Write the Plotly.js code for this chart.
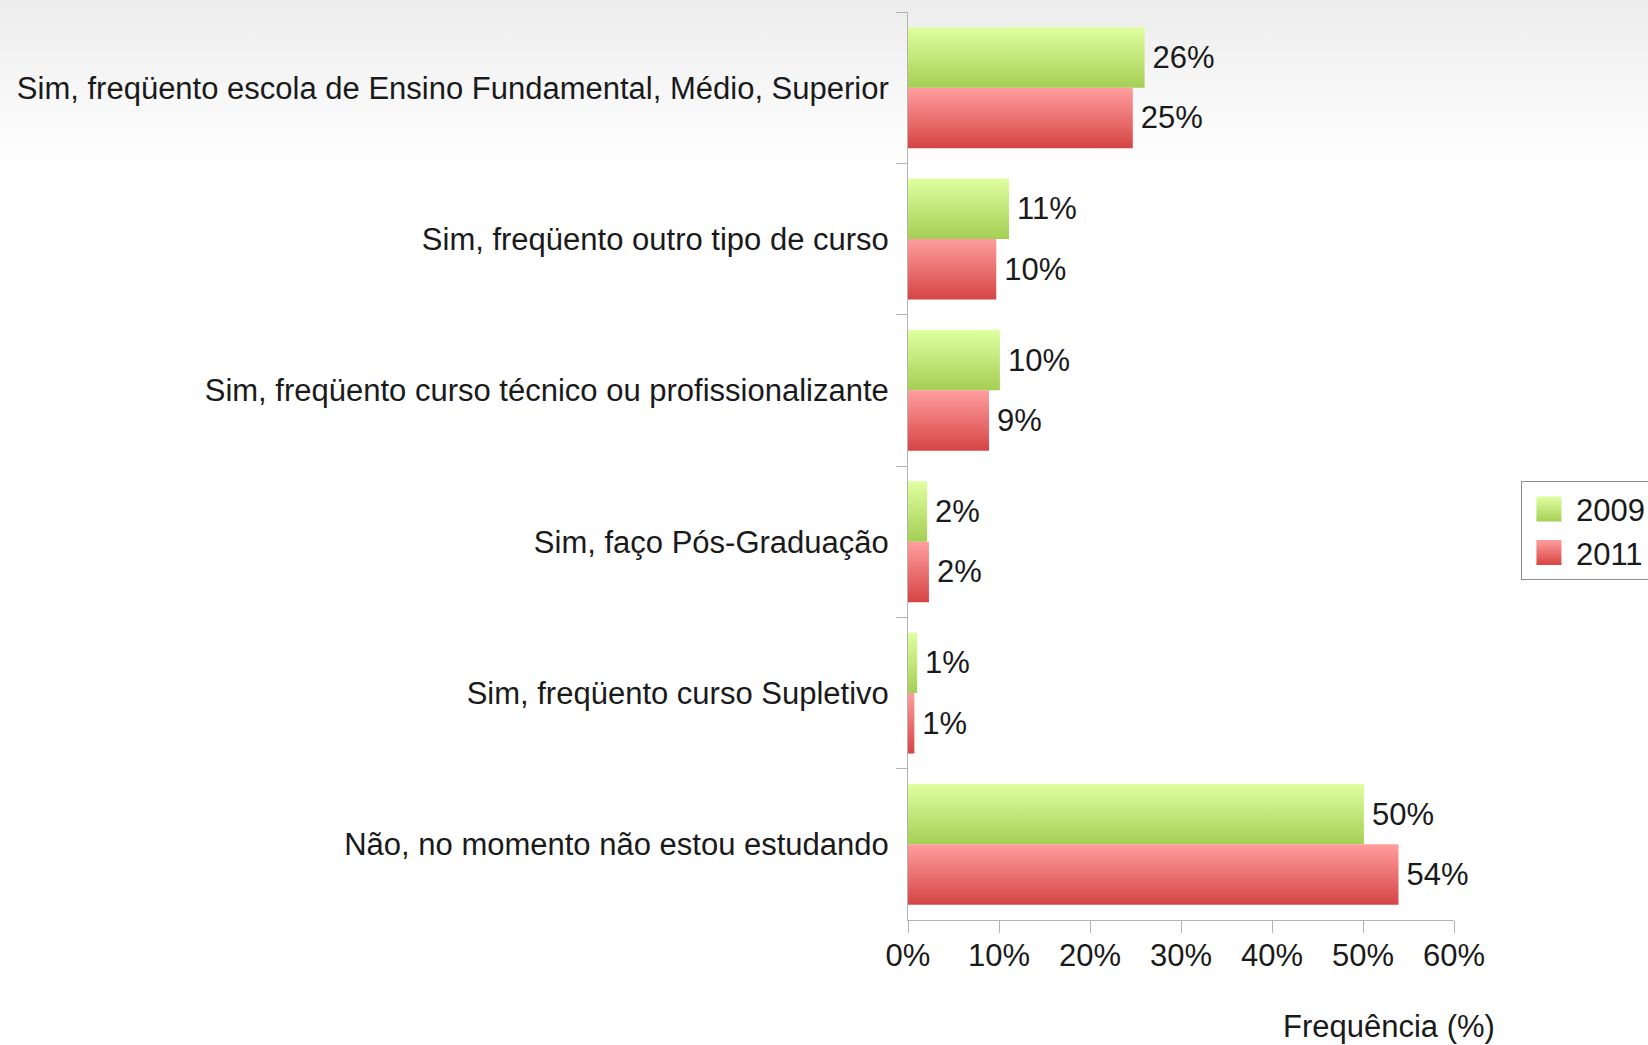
<!DOCTYPE html>
<html>
<head>
<meta charset="utf-8">
<script src="https://cdn.plot.ly/plotly-3.0.1.min.js"></script>
<style>
html, body { margin: 0; padding: 0; }
body { width: 1648px; height: 1045px; background: linear-gradient(to bottom, #ececec 0px, #f7f7f7 90px, #ffffff 175px, #ffffff 100%); overflow: hidden; }
#chart { width: 1648px; height: 1045px; }
</style>
</head>
<body>
<div id="chart"></div>
<script>
const categories = [
  "Sim, freqüento escola de Ensino Fundamental, Médio, Superior",
  "Sim, freqüento outro tipo de curso",
  "Sim, freqüento curso técnico ou profissionalizante",
  "Sim, faço Pós-Graduação",
  "Sim, freqüento curso Supletivo",
  "Não, no momento não estou estudando"
];
const values2009 = [26.0, 11.1, 10.1, 2.1, 1.0, 50.1];
const values2011 = [24.7, 9.7, 8.9, 2.3, 0.7, 53.9];
const seriesNames = ["2009", "2011"];
const xTickVals = [0, 10, 20, 30, 40, 50, 60];
const xTickText = ["0%", "10%", "20%", "30%", "40%", "50%", "60%"];
const xAxisTitle = "Frequência (%)";

const FONT = "Liberation Sans, Arial, sans-serif";
const TXT = "#1a1a1a";
const FS = 31;

const traces = [
  {
    type: "bar", orientation: "h", name: seriesNames[0],
    y: categories, x: values2009,
    marker: { color: "#bfe57a", line: { width: 0 } },
    texttemplate: "%{x:.0f}%", textposition: "outside",
    textfont: { family: FONT, size: FS, color: TXT },
    cliponaxis: false, hoverinfo: "none"
  },
  {
    type: "bar", orientation: "h", name: seriesNames[1],
    y: categories, x: values2011,
    marker: { color: "#ec6f6f", line: { width: 0 } },
    texttemplate: "%{x:.0f}%", textposition: "outside",
    textfont: { family: FONT, size: FS, color: TXT },
    cliponaxis: false, hoverinfo: "none"
  }
];

const layout = {
  width: 1648, height: 1045,
  margin: { l: 908, r: 194, t: 12, b: 125, pad: 0, autoexpand: false },
  paper_bgcolor: "rgba(0,0,0,0)",
  plot_bgcolor: "rgba(0,0,0,0)",
  font: { family: FONT, size: FS, color: TXT },
  barmode: "group",
  bargap: 0.2,
  bargroupgap: 0,
  showlegend: true,
  legend: {
    xref: "container", yref: "container",
    x: 0.9229, xanchor: "left", y: 0.4919, yanchor: "middle",
    bgcolor: "#ffffff", bordercolor: "#8c8c8c", borderwidth: 1,
    font: { family: FONT, size: FS, color: TXT },
    itemwidth: 44,
    traceorder: "normal", itemclick: false, itemdoubleclick: false
  },
  xaxis: {
    range: [0, 60], tickvals: xTickVals, ticktext: xTickText,
    showgrid: false, zeroline: false,
    showline: true, linecolor: "#b3b3b3", linewidth: 1,
    ticks: "outside", ticklen: 12, tickcolor: "#b3b3b3", tickwidth: 1,
    ticklabelstandoff: -4,
    tickfont: { family: FONT, size: FS, color: TXT },
    fixedrange: true
  },
  yaxis: {
    type: "category", autorange: "reversed",
    showgrid: false, zeroline: false,
    showline: true, linecolor: "#b3b3b3", linewidth: 1,
    ticks: "outside", tickson: "boundaries", ticklen: 11, tickcolor: "#b3b3b3", tickwidth: 1,
    ticklabelstandoff: 12,
    tickfont: { family: FONT, size: FS, color: TXT },
    fixedrange: true
  },
  annotations: [{
    text: xAxisTitle, xref: "paper", yref: "paper",
    x: 1.0, xanchor: "left", xshift: -173, y: 0, yanchor: "top", yshift: -87,
    showarrow: false, font: { family: FONT, size: FS, color: TXT }
  }]
};

function addGradients(gd) {
  const svg = gd.querySelector(".main-svg");
  if (!svg) return;
  let defs = svg.querySelector("defs");
  const ns = "http://www.w3.org/2000/svg";
  if (!defs) { defs = document.createElementNS(ns, "defs"); svg.insertBefore(defs, svg.firstChild); }
  const grads = [
    { id: "gradG", top: "#e0ffa0", bottom: "#a4cf54" },
    { id: "gradR", top: "#ff9e9e", bottom: "#d64444" }
  ];
  grads.forEach(g => {
    if (defs.querySelector("#" + g.id)) return;
    const lg = document.createElementNS(ns, "linearGradient");
    lg.setAttribute("id", g.id);
    lg.setAttribute("x1", "0"); lg.setAttribute("y1", "0");
    lg.setAttribute("x2", "0"); lg.setAttribute("y2", "1");
    const s1 = document.createElementNS(ns, "stop");
    s1.setAttribute("offset", "0"); s1.setAttribute("stop-color", g.top);
    const s2 = document.createElementNS(ns, "stop");
    s2.setAttribute("offset", "1"); s2.setAttribute("stop-color", g.bottom);
    lg.appendChild(s1); lg.appendChild(s2); defs.appendChild(lg);
  });
  const ids = ["gradG", "gradR"];
  gd.querySelectorAll(".barlayer .trace.bars").forEach((t, i) => {
    t.querySelectorAll(".point path").forEach(p => { p.style.fill = "url(#" + ids[i] + ")"; });
    t.querySelectorAll(".point text.bartext").forEach(tx => {
      if (tx.getAttribute("data-shifted")) return;
      const x = parseFloat(tx.getAttribute("x") || "0");
      tx.setAttribute("x", x + 5);
      tx.setAttribute("data-shifted", "1");
    });
  });
  gd.querySelectorAll(".legend .traces").forEach((t, i) => {
    t.querySelectorAll(".legendpoints path").forEach(p => {
      p.setAttribute("d", "M12.5,12.5H-12.5V-12.5H12.5Z");
      p.style.fill = "url(#" + ids[i] + ")";
      p.style.strokeWidth = "0";
    });
  });
}

const gd = document.getElementById("chart");
Plotly.newPlot(gd, traces, layout, { staticPlot: true, displayModeBar: false }).then(() => {
  addGradients(gd);
  gd.on("plotly_afterplot", () => addGradients(gd));
});
</script>
</body>
</html>
